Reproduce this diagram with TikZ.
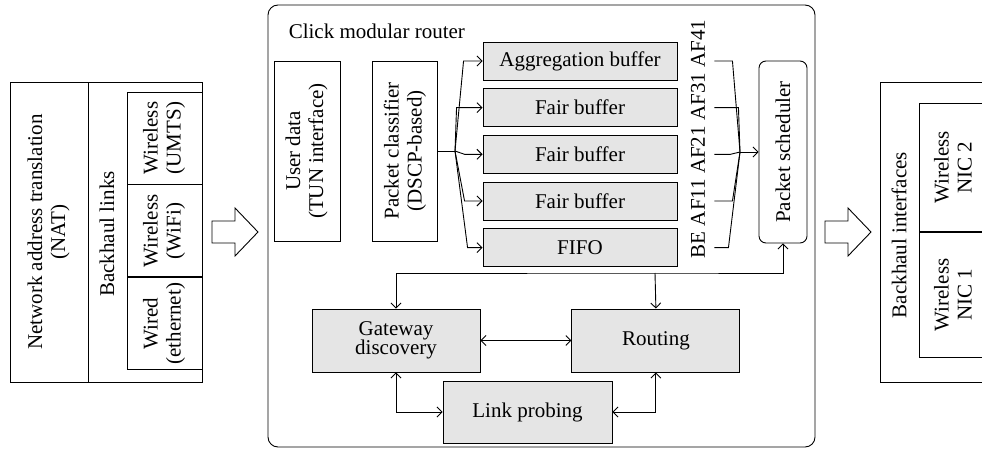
\documentclass[tikz,border=0pt]{standalone}
\usepackage{fontspec}
\setmainfont{Liberation Serif}
\usepackage{tikz}
\usetikzlibrary{arrows.meta,positioning}
\definecolor{boxgray}{RGB}{229,229,229}
\newcommand{\vlabel}[1]{\rotatebox{90}{\begin{tabular}{@{}c@{}}#1\end{tabular}}}

\begin{document}
\begin{tikzpicture}
[
    x=1pt, y=-1pt,
    line width=0.9pt,
    font=\fontsize{21}{23}\selectfont,
    >={Straight Barb[length=5pt,width=10pt]},
    box/.style={draw, inner sep=0pt},
    buffer/.style={box, fill=boxgray, minimum width=194pt, minimum height=38pt},
    module/.style={box, fill=boxgray, align=center, minimum width=168pt, minimum height=63pt},
]
\useasboundingbox (0,0) rectangle (982,450);
\clip (0,0) rectangle (982,450);

\node [box, minimum width=78pt, minimum height=300pt] (nat) at (49,232)
{\vlabel{Network address translation\\(NAT)}};
\node [box, minimum width=114pt, minimum height=300pt] (links) at (145,232) {};
\node (linkslabel) at (107,234) {\rotatebox{90}{Backhaul links}};
\node [box, minimum width=75pt, minimum height=92pt] (umts) at (164.5,138)
{\vlabel{Wireless\\(UMTS)}};
\node [box, minimum width=75pt, minimum height=92pt, below=0pt of umts] (wifi)
{\vlabel{Wireless\\(WiFi)}};
\node [box, minimum width=75pt, minimum height=92pt, below=0pt of wifi] (eth)
{\vlabel{Wired\\(ethernet)}};
\draw (212,221) -- (235,221) -- (235,208) -- (258,232) -- (235,256) -- (235,243) -- (212,243) -- cycle;

\node [draw, rounded corners=10pt, minimum width=547pt, minimum height=442pt] (router) at (541.5,226) {};
\node [anchor=base west] (title) at (285,38) {Click modular router};

\node [box, minimum width=66pt, minimum height=180pt] (user) at (307,151)
{\vlabel{User data\\(TUN interface)}};
\node [box, minimum width=65pt, minimum height=180pt, right=32pt of user] (classifier)
{\vlabel{Packet classifier\\(DSCP-based)}};

\node [buffer] (b1) at (580,61) {Aggregation buffer};
\node [buffer, below=7.75pt of b1] (b2) {Fair buffer};
\node [buffer, below=7.75pt of b2] (b3) {Fair buffer};
\node [buffer, below=7.75pt of b3] (b4) {Fair buffer};
\node [buffer, below=7.75pt of b4] (b5) {FIFO};
\node (classes) at (698,139) {\rotatebox{90}{BE AF11 AF21 AF31 AF41}};
\node [draw, rounded corners=7pt, minimum width=48pt, minimum height=182pt] (sched) at (783,152)
{\rotatebox{90}{Packet scheduler}};

\coordinate (fork) at (455,151);
\draw (classifier.east) -- (fork);
\draw [->] (fork) -- ([xshift=-19pt]b1.west) -- (b1.west);
\draw [->] (fork) -- ([xshift=-26pt]b2.west) -- (b2.west);
\draw [->] (fork) -- ([xshift=-18pt]b3.west) -- (b3.west);
\draw [->] (fork) -- ([xshift=-18pt]b4.west) -- (b4.west);
\draw [->] (fork) -- ([xshift=-15pt]b5.west) -- (b5.west);

\coordinate (join) at (740,152);
\draw ([xshift=37pt]b1.east) -- ([xshift=55pt]b1.east) -- (join);
\draw ([xshift=37pt]b2.east) -- ([xshift=61pt]b2.east) -- (join);
\draw ([xshift=37pt]b3.east) -- ([xshift=53pt]b3.east) -- (join);
\draw ([xshift=37pt]b4.east) -- ([xshift=55pt]b4.east) -- (join);
\draw ([xshift=37pt]b5.east) -- ([xshift=51pt]b5.east) -- (join);
\draw [->] (join) -- (sched.west);

\node [module] (gateway) at (396,340.5) {Gateway\\[-4pt]discovery};
\node [module, right=91pt of gateway] (routing) {Routing};
\node [module, minimum width=169pt, minimum height=62pt] (link) at (527.5,412) {Link probing};

\coordinate (bus) at (655,273);
\draw [<->] (gateway.north) |- (bus) -| (sched.south);
\draw [->] (bus) -- (routing.north);
\draw [<->] (gateway) -- (routing);
\draw [<->] (gateway.south) |- (link.west);
\draw [<->] (routing.south) |- (link.east);

\draw (825,221) -- (848,221) -- (848,208) -- (871,232) -- (848,256) -- (848,243) -- (825,243) -- cycle;
\node [box, minimum width=120pt, minimum height=300pt, anchor=north west] (backhaul) at (880,82) {};
\node (backhaullabel) at (899,235) {\rotatebox{90}{Backhaul interfaces}};
\node [box, minimum width=72pt, minimum height=128pt, anchor=north west] (nic2) at (919,103)
{\vlabel{Wireless\\NIC 2}};
\node [box, minimum width=72pt, minimum height=125pt, below=0pt of nic2] (nic1)
{\vlabel{Wireless\\NIC 1}};
\end{tikzpicture}
\end{document}
